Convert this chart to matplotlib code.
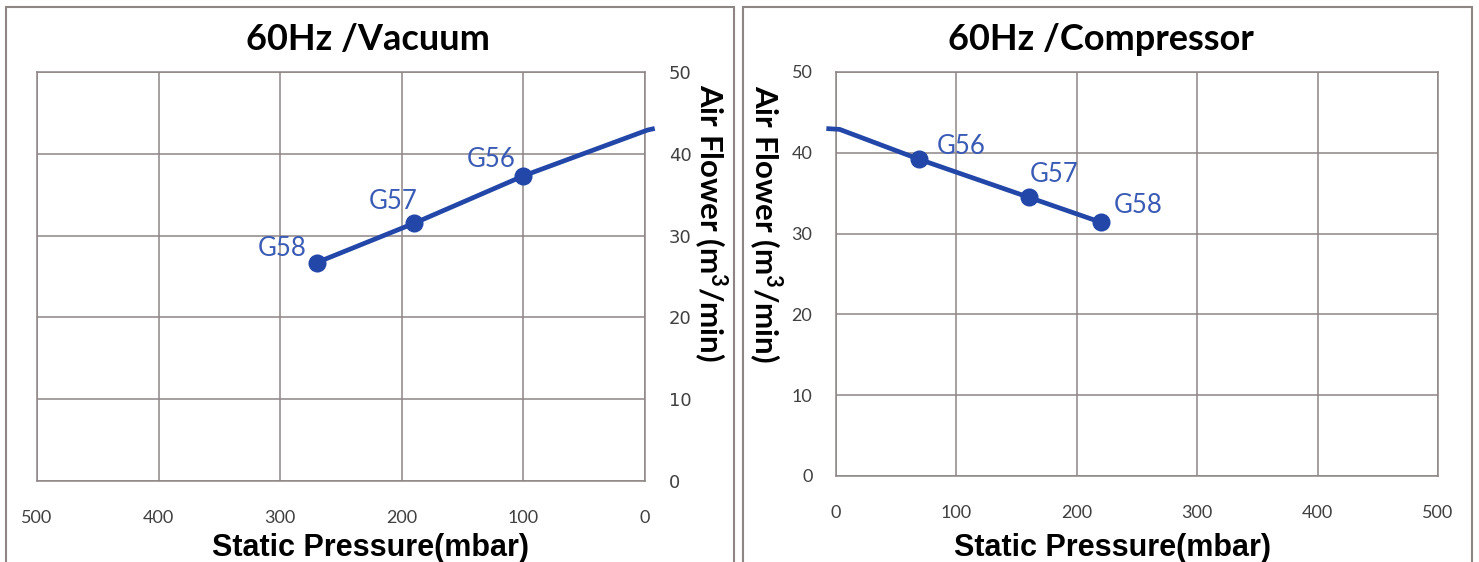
import matplotlib
matplotlib.use("Agg")
import matplotlib.pyplot as plt
from matplotlib.patches import Rectangle

plt.rcParams["mathtext.fontset"] = "custom"
plt.rcParams["mathtext.rm"] = "Lato"
plt.rcParams["mathtext.bf"] = "Lato:bold"

# ---------------- data ----------------
vac_labels = ["G58", "G57", "G56"]
vac_x = [270, 190, 100]
vac_y = [26.7, 31.5, 37.3]
vac_line_x = [270, 190, 100, -2, -8]
vac_line_y = [26.7, 31.5, 37.3, 42.9, 43.1]

comp_labels = ["G56", "G57", "G58"]
comp_x = [69, 160, 220]
comp_y = [39.2, 34.5, 31.4]
comp_line_x = [-8, 3, 69, 160, 220]
comp_line_y = [43.0, 42.9, 39.2, 34.5, 31.4]

x_ticks = [0, 100, 200, 300, 400, 500]
y_ticks = [0, 10, 20, 30, 40, 50]

titles = ["60Hz /Vacuum", "60Hz /Compressor"]
xlabel = "Static Pressure(mbar)"
ylabel = r"Air Flower (m$^{\mathbf{3}}$/min)"

# label offsets (points) — layout only
vac_offsets = [(-25, 10), (-15, 16), (-23, 11.5)]
comp_offsets = [(30, 9.4), (18, 16.5), (26.6, 12.2)]

# ---------------- style ----------------
W, H = 1479, 562
LINE_C = "#2347A8"
TEXT_C = "#3A5BB5"
GRID_C = "#8E8585"
TICK_C = "#404040"
SANS = ["Lato", "DejaVu Sans"]
ARIAL = ["Liberation Sans", "DejaVu Sans"]

fig = plt.figure(figsize=(W / 100, H / 100), dpi=100)
fig.patch.set_facecolor("white")


def px_box(x0, y0, x1, y1):
    return [x0 / W, 1 - y1 / H, (x1 - x0) / W, (y1 - y0) / H]


# panel borders
for (x0, x1) in [(6, 734), (743, 1472)]:
    b = px_box(x0, 7, x1, 566)
    fig.patches.append(Rectangle((b[0], b[1]), b[2], b[3], transform=fig.transFigure,
                                 fill=False, edgecolor=GRID_C, linewidth=1.5))

axL = fig.add_axes(px_box(37, 72, 645, 481))
axR = fig.add_axes(px_box(836, 72, 1438, 476))

for ax in (axL, axR):
    ax.set_ylim(0, 50)
    ax.set_xticks(x_ticks)
    ax.set_yticks(y_ticks)
    ax.grid(True, color=GRID_C, linewidth=1.1)
    ax.set_axisbelow(True)
    for s in ax.spines.values():
        s.set_color(GRID_C)
        s.set_linewidth(1.1)
    ax.tick_params(length=0, labelsize=13, labelcolor=TICK_C)
    for lab in ax.get_xticklabels() + ax.get_yticklabels():
        lab.set_family(SANS)

axL.set_xlim(500, 0)
axR.set_xlim(0, 500)
axL.yaxis.tick_right()
axL.tick_params(axis="y", pad=17)
axR.tick_params(axis="y", pad=17)
axL.tick_params(axis="x", pad=21)
axR.tick_params(axis="x", pad=21)

# lines + markers
axL.plot(vac_line_x, vac_line_y, color=LINE_C, linewidth=3.4, clip_on=False,
         solid_capstyle="butt", zorder=3)
axL.plot(vac_x, vac_y, "o", color=LINE_C, markersize=12, clip_on=False, zorder=4)
axR.plot(comp_line_x, comp_line_y, color=LINE_C, linewidth=3.4, clip_on=False,
         solid_capstyle="butt", zorder=3)
axR.plot(comp_x, comp_y, "o", color=LINE_C, markersize=12, clip_on=False, zorder=4)

for ax, labs, xs, ys, offs in [(axL, vac_labels, vac_x, vac_y, vac_offsets),
                               (axR, comp_labels, comp_x, comp_y, comp_offsets)]:
    for lab, x, y, o in zip(labs, xs, ys, offs):
        ax.annotate(lab, (x, y), xytext=o, textcoords="offset points",
                    ha="center", va="center", color=TEXT_C, fontsize=18.5,
                    family=SANS)

# titles
fig.text(368 / W, 1 - 40 / H, titles[0], ha="center", va="center",
         fontsize=26, fontweight="bold", family=SANS)
fig.text(1101 / W, 1 - 40 / H, titles[1], ha="center", va="center",
         fontsize=26, fontweight="bold", family=SANS)

# x labels
fig.text(370 / W, 1 - 548 / H, xlabel, ha="center", va="center",
         fontsize=22, fontweight="bold", family=ARIAL)
fig.text(1113 / W, 1 - 548 / H, xlabel, ha="center", va="center",
         fontsize=22, fontweight="bold", family=ARIAL)

# y labels
fig.text(710 / W, 1 - 223 / H, ylabel, ha="center", va="center", rotation=270,
         fontsize=22.5, fontweight="bold", family=SANS)
fig.text(765 / W, 1 - 224 / H, ylabel, ha="center", va="center", rotation=270,
         fontsize=22.5, fontweight="bold", family=SANS)

fig.savefig("out.png", dpi=100, facecolor="white")
